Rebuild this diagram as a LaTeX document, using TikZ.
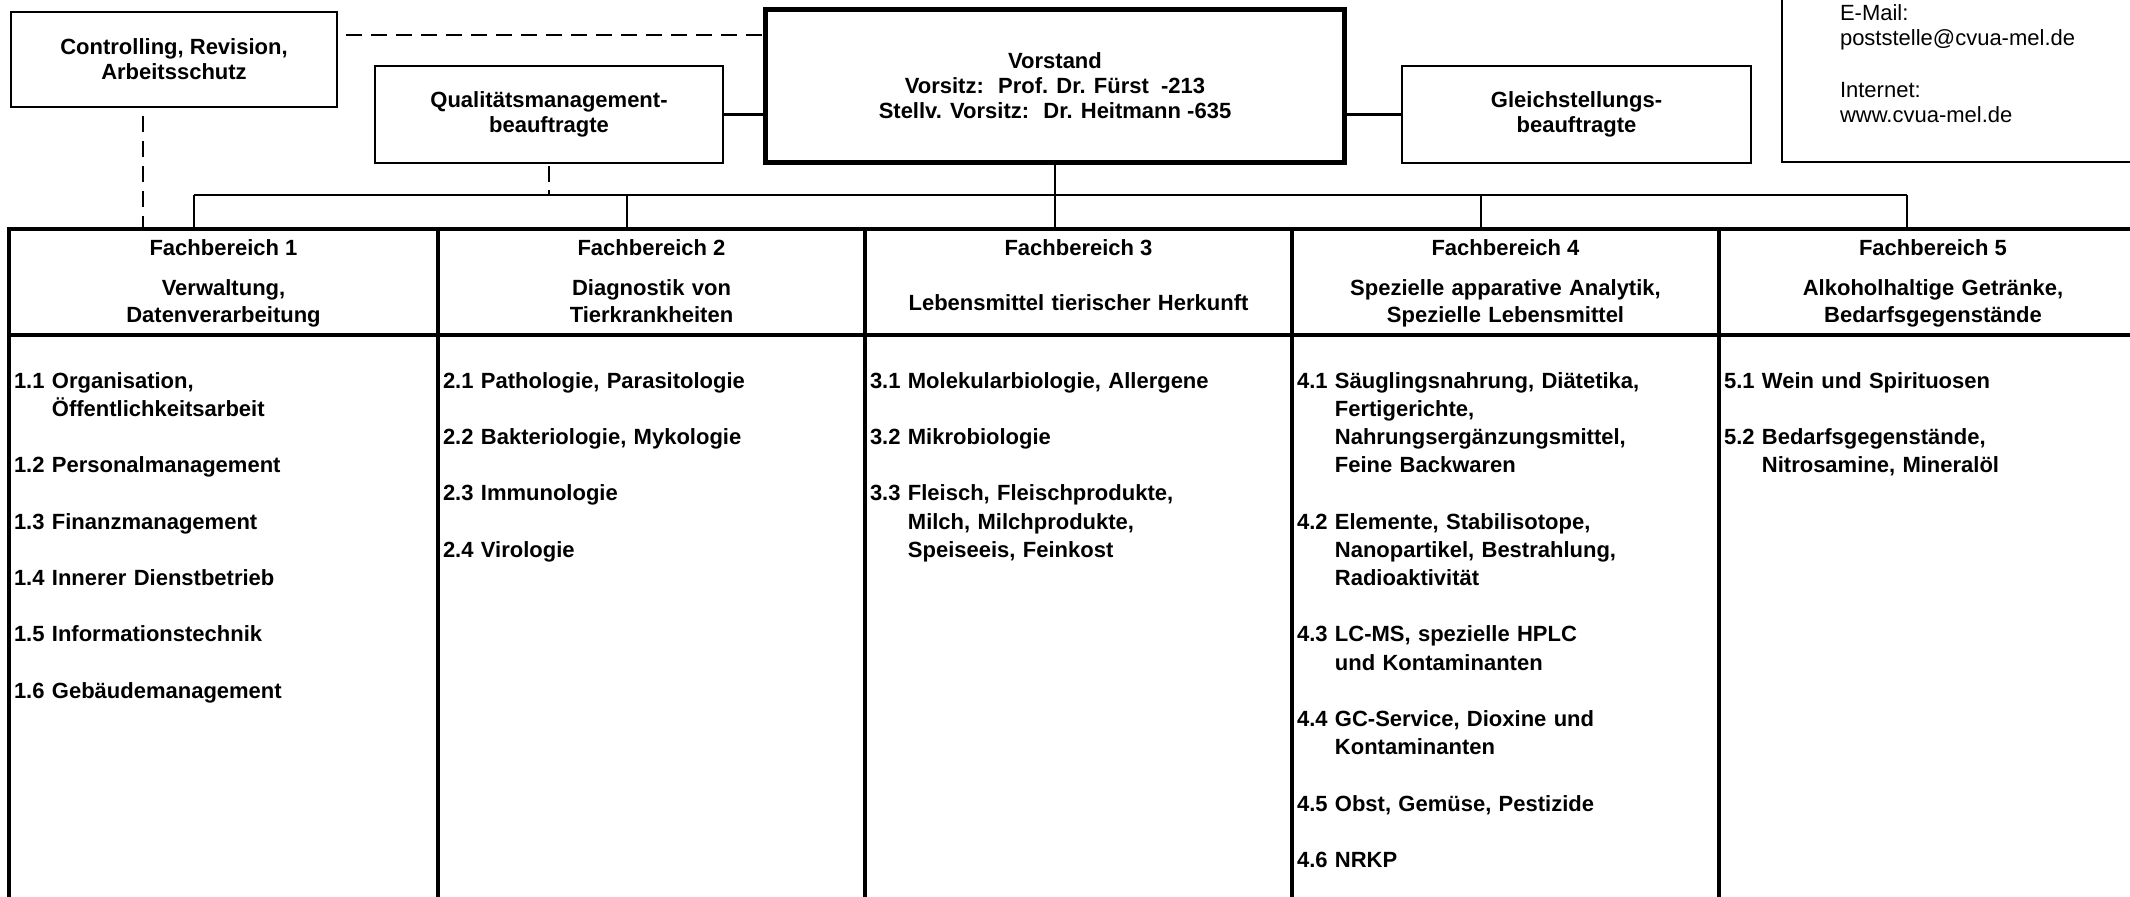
\documentclass[tikz,border=0pt]{standalone}
\usepackage{fontspec}
\setmainfont{Liberation Sans}
\usetikzlibrary{calc}
\newcommand\myind{\hphantom{0.0\ }}
\begin{document}
\begin{tikzpicture}[x=0.5pt,y=-0.5pt,
  every node/.style={inner sep=0pt,outer sep=0pt},
  box/.style={draw,line width=1pt,rectangle,align=center,font=\bfseries\fontsize{11}{12.5}\selectfont},
  mainbox/.style={box,line width=2.5pt},
  cell/.style={draw,line width=2pt,rectangle,anchor=north west},
  conn/.style={line width=1.2pt},
  dashline/.style={line width=1.3pt,dash pattern=on 8pt off 4.5pt},
  ttl/.style={anchor=base,font=\bfseries\fontsize{11}{13.5}\selectfont},
  sub/.style={anchor=base,align=center,text width=205pt,font=\bfseries\fontsize{11}{13.5}\selectfont},
  items/.style={anchor=base west,align=left,text width=205pt,font=\bfseries\fontsize{11}{14.1}\selectfont},
  contact/.style={anchor=base west,align=left,text width=140pt,font=\fontsize{11}{12.75}\selectfont},
]
\useasboundingbox (0,0) rectangle (2130,896);
\fill[white] (0,0) rectangle (2130,896);
\clip (0,0) rectangle (2130,896);

% top boxes
\node[box,minimum width=163pt,minimum height=47.5pt] (C) at (174,59.5) {Controlling, Revision,\\Arbeitsschutz};
\node[box,minimum width=174pt,minimum height=48.5pt] (Q) at (549,114.5) {Qualitätsmanagement-\\beauftragte};
\node[mainbox,minimum width=289.5pt,minimum height=76.5pt] (V) at (1055,86) {Vorstand\\Vorsitz:~ Prof. Dr. Fürst~ -213\\Stellv. Vorsitz:~ Dr. Heitmann -635};
\node[box,minimum width=174.5pt,minimum height=48.5pt] (G) at (1576.5,114.5) {Gleichstellungs-\\beauftragte};
\node[draw,line width=1pt,minimum width=184pt,minimum height=91pt] (K) at (1966,71) {};
\node[contact] (Kt) at (1840,20) {E-Mail:\\poststelle@cvua-mel.de\\[13pt]Internet:\\www.cvua-mel.de};

% table cells
\foreach \i/\l/\w in {1/9/214.5, 2/438/213.5, 3/865/213.5, 4/1292/213.5, 5/1719/214} {
  \node[cell,minimum width=\w pt,minimum height=53pt] (h\i) at (\l,229) {};
  \node[cell,minimum width=\w pt,minimum height=283pt] (c\i) at (\l,335) {};
  \node[ttl] (t\i) at ($(h\i.north)+(0,26)$) {Fachbereich \i};
}

% subtitles
\node[sub] (s1) at ($(h1.north)+(0,66)$) {Verwaltung,\\Datenverarbeitung};
\node[sub] (s2) at ($(h2.north)+(0,66)$) {Diagnostik von\\Tierkrankheiten};
\node[sub] (s3) at ($(h3.north)+(0,81)$) {Lebensmittel tierischer Herkunft};
\node[sub] (s4) at ($(h4.north)+(0,66)$) {Spezielle apparative Analytik,\\Spezielle Lebensmittel};
\node[sub] (s5) at ($(h5.north)+(0,66)$) {Alkoholhaltige Getränke,\\Bedarfsgegenstände};

% items
\node[items] (i1) at ($(c1.north west)+(5,53)$) {1.1 Organisation,\\\myind Öffentlichkeitsarbeit\\[14.1pt]1.2 Personalmanagement\\[14.1pt]1.3 Finanzmanagement\\[14.1pt]1.4 Innerer Dienstbetrieb\\[14.1pt]1.5 Informationstechnik\\[14.1pt]1.6 Gebäudemanagement};
\node[items] (i2) at ($(c2.north west)+(5,53)$) {2.1 Pathologie, Parasitologie\\[14.1pt]2.2 Bakteriologie, Mykologie\\[14.1pt]2.3 Immunologie\\[14.1pt]2.4 Virologie};
\node[items] (i3) at ($(c3.north west)+(5,53)$) {3.1 Molekularbiologie, Allergene\\[14.1pt]3.2 Mikrobiologie\\[14.1pt]3.3 Fleisch, Fleischprodukte,\\\myind Milch, Milchprodukte,\\\myind Speiseeis, Feinkost};
\node[items] (i4) at ($(c4.north west)+(5,53)$) {4.1 Säuglingsnahrung, Diätetika,\\\myind Fertigerichte,\\\myind Nahrungsergänzungsmittel,\\\myind Feine Backwaren\\[14.1pt]4.2 Elemente, Stabilisotope,\\\myind Nanopartikel, Bestrahlung,\\\myind Radioaktivität\\[14.1pt]4.3 LC-MS, spezielle HPLC\\\myind und Kontaminanten\\[14.1pt]4.4 GC-Service, Dioxine und\\\myind Kontaminanten\\[14.1pt]4.5 Obst, Gemüse, Pestizide\\[14.1pt]4.6 NRKP};
\node[items] (i5) at ($(c5.north west)+(5,53)$) {5.1 Wein und Spirituosen\\[14.1pt]5.2 Bedarfsgegenstände,\\\myind Nitrosamine, Mineralöl};

% connectors
\coordinate (b1) at (194,195);
\coordinate (b2) at (627,195);
\coordinate (b3) at (1055,195);
\coordinate (b4) at (1481,195);
\coordinate (b5) at (1907,195);
\draw[conn] (b1) -- (b5);
\foreach \i in {1,...,5} \draw[conn] (b\i) -- (b\i |- h\i.north);
\draw[conn] (V.south) -- (b3);
\draw[conn] (Q.east) -- (Q.east -| V.west);
\draw[conn] (G.west) -- (G.west -| V.east);

\coordinate (cv) at ($(C.north east)!0.24!(C.south east)$);
\draw[dashline,dash phase=8pt] (cv) -- (cv -| V.west);
\coordinate (cd) at ($(C.south west)!0.405!(C.south east)$);
\draw[dashline,dash phase=8pt] (cd) -- (cd |- h1.north);
\draw[dashline,dash pattern=on 8pt off 4pt,dash phase=-1.5pt] (Q.south) -- (Q.south |- b1);
\end{tikzpicture}
\end{document}
